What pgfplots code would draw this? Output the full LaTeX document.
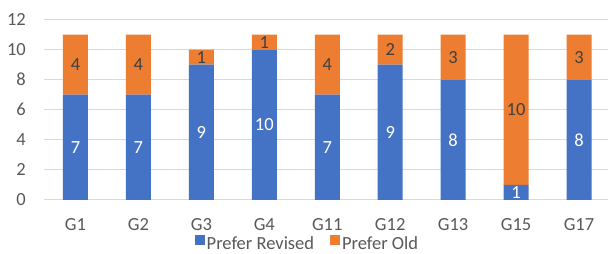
\documentclass[border=0pt]{standalone}
\usepackage{pgfplots}
\usepackage{pgfplotstable}
\pgfplotsset{compat=1.18}
\usepackage{fontspec}
\setmainfont{Carlito}
\definecolor{xblue}{HTML}{4472C4}
\definecolor{xorange}{HTML}{ED7D31}
\definecolor{xtext}{HTML}{595959}
\definecolor{xgrid}{HTML}{D9D9D9}
\pgfplotstableread{
x rev old
0 7 4
1 7 4
2 9 1
3 10 1
4 7 4
5 9 2
6 8 3
7 1 10
8 8 3
}\data
\begin{document}
\begin{tikzpicture}[x=1pt,y=1pt]
\useasboundingbox (-44,-54) rectangle (564,200);
\begin{axis}[
  at={(0,0)}, anchor=south west,
  scale only axis, width=566.5pt, height=180.5pt,
  ybar stacked, bar width=25pt,
  xmin=-0.5, xmax=8.5, ymin=0, ymax=12,
  xtick=data, xticklabels={G1,G2,G3,G4,G11,G12,G13,G15,G17},
  ytick={0,2,...,12},
  axis line style={draw=none},
  major tick length=0pt,
  ymajorgrids, major grid style={xgrid, line width=1pt},
  font=\fontsize{18.5}{22}\selectfont,
  tick label style={text=xtext, font=\fontsize{18.5}{22}\selectfont},
  xticklabel style={anchor=base, yshift=-31pt},
  yticklabel style={anchor=east, inner sep=0pt, xshift=-18pt},
  /pgf/number format/assume math mode=true,
  legend style={draw=none, legend columns=-1, at={(0.465,-0.245)}, anchor=center,
    inner sep=0pt, font=\fontsize{18.5}{22}\selectfont, text=xtext},
  legend image code/.code={\fill[#1] (0pt,-1pt) rectangle (10pt,9pt);},
]
\addplot[fill=xblue, draw=none,
  visualization depends on={\thisrow{rev} \as \rawy},
  nodes near coords={\pgfmathprintnumber{\rawy}},
  every node near coord/.append style={text=white, anchor=center,
    font=\fontsize{18.5}{22}\selectfont}] table[x=x,y=rev]{\data};
\addplot[fill=xorange, draw=none,
  visualization depends on={\thisrow{old} \as \rawy},
  nodes near coords={\pgfmathprintnumber{\rawy}},
  every node near coord/.append style={text=black!75, anchor=center,
    font=\fontsize{18.5}{22}\selectfont}] table[x=x,y=old]{\data};
\legend{Prefer Revised\rule{14pt}{0pt}, Prefer Old}
\end{axis}
\end{tikzpicture}
\end{document}
